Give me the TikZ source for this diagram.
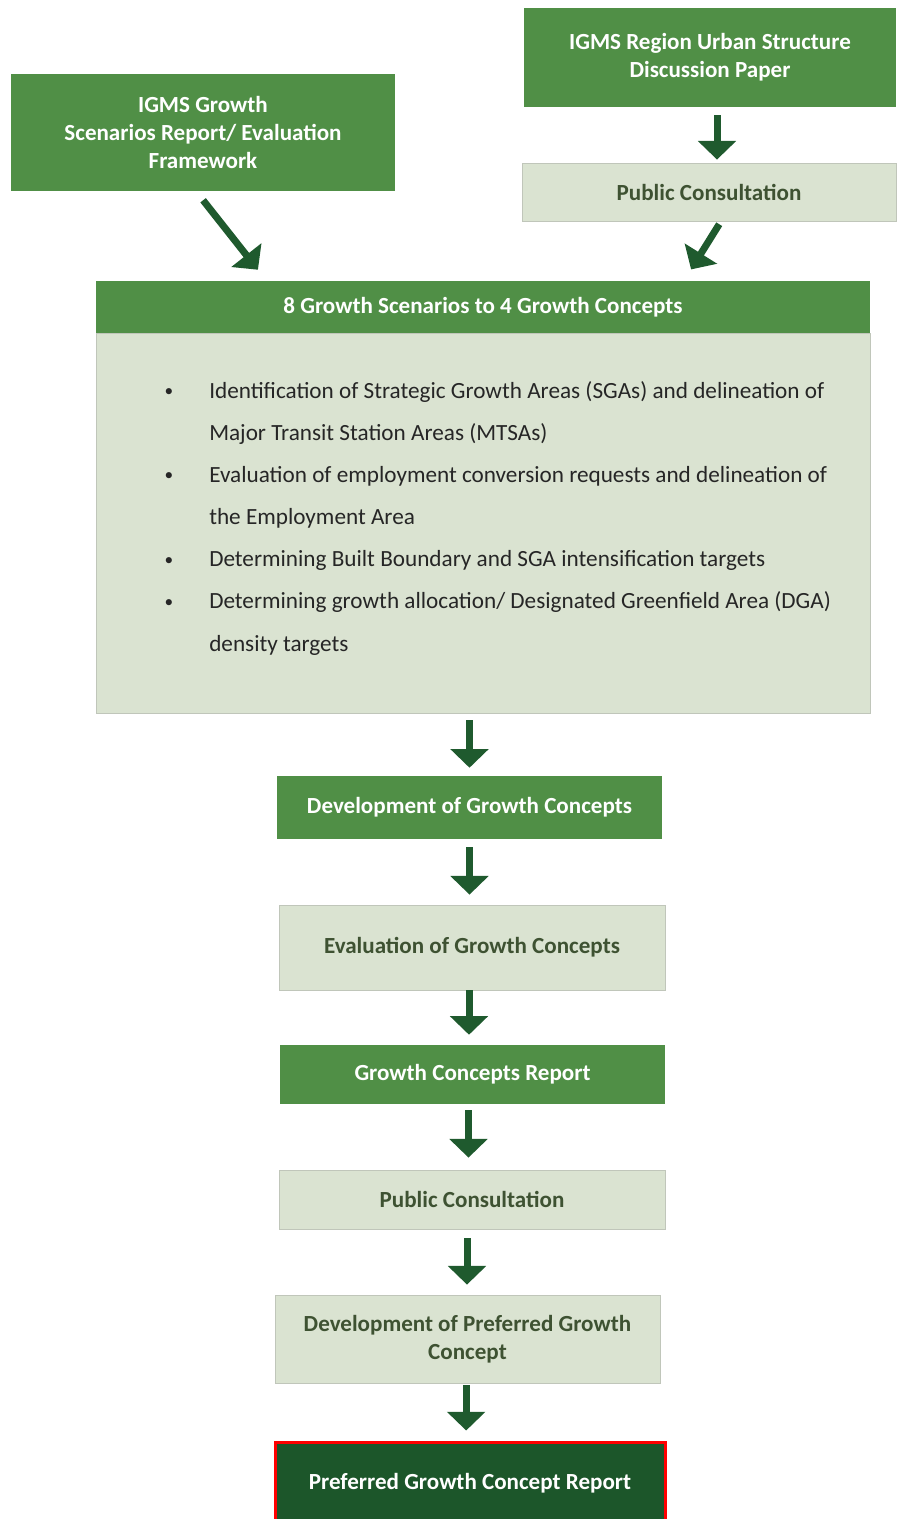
\documentclass[tikz,border=0pt]{standalone}
\usepackage{fontspec}
\setmainfont{Carlito}
\usetikzlibrary{arrows.meta}

\definecolor{boxgreen}{RGB}{80,143,70}
\definecolor{palegreen}{RGB}{218,227,209}
\definecolor{edgegrey}{RGB}{192,198,186}
\definecolor{labeldark}{RGB}{62,82,50}
\definecolor{reportgreen}{RGB}{28,86,42}
\definecolor{arrowgreen}{RGB}{31,90,46}
\newcommand{\itemdot}{\makebox[31.5pt][l]{\hspace*{-2pt}\raisebox{1.3pt}{\fontsize{13}{13}\selectfont\textbullet}}}

\begin{document}
\begin{tikzpicture}[x=0.75pt,y=-0.75pt,
  greenbox/.style={fill=boxgreen,text=white,align=center,inner sep=0pt,
    font=\bfseries\fontsize{17.3}{21}\selectfont},
  lightbox/.style={fill=palegreen,draw=edgegrey,line width=0.6pt,text=labeldark,
    align=center,inner sep=0pt,font=\bfseries\fontsize{17.3}{21}\selectfont},
  flow/.style={-{Triangle[width=28pt,length=14pt]},line width=5.25pt,draw=arrowgreen}]
  \useasboundingbox (0,0) rectangle (896,1519);
  % --- sources ---
  \node[greenbox,minimum width=288pt,minimum height=87.75pt] (growthrep) at (203,132.5)
    {IGMS Growth\\Scenarios Report/ Evaluation\\Framework};
  \node[greenbox,minimum width=279pt,minimum height=74.25pt] (urbanpaper) at (710,57.5)
    {IGMS Region Urban Structure\\Discussion Paper};
  \node[lightbox,minimum width=280.5pt,minimum height=43.5pt] (pubcon1) at (709,192)
    {Public Consultation};
  % --- scenarios to concepts ---
  \node[fill=palegreen,draw=edgegrey,line width=0.6pt,minimum width=580.5pt,minimum height=285pt,
    inner sep=0pt] (scenbody) at (483,523) {};
  \node[greenbox,minimum width=580.5pt,minimum height=39pt] (scenhead) at (483,307)
    {8 Growth Scenarios to 4 Growth Concepts};
  \node[anchor=north west,align=left,inner sep=0pt,text=black!85,
    font=\fontsize{17.4}{31.6}\selectfont] (scenitems) at (167,381)
    {\itemdot Identification of Strategic Growth Areas (SGAs) and delineation of\\
     \hspace*{31.5pt}Major Transit Station Areas (MTSAs)\\
     \itemdot Evaluation of employment conversion requests and delineation of\\
     \hspace*{31.5pt}the Employment Area\\
     \itemdot Determining Built Boundary and SGA intensification targets\\
     \itemdot Determining growth allocation/ Designated Greenfield Area (DGA)\\
     \hspace*{31.5pt}density targets};
  % --- concept steps ---
  \node[greenbox,minimum width=288.75pt,minimum height=47.25pt] (devconc) at (469.5,807.5)
    {Development of Growth Concepts};
  \node[lightbox,minimum width=289.5pt,minimum height=63.75pt] (evalconc) at (472,947.5)
    {Evaluation of Growth Concepts};
  \node[greenbox,minimum width=288.75pt,minimum height=44.25pt] (concrep) at (472.5,1074.5)
    {Growth Concepts Report};
  \node[lightbox,minimum width=289.5pt,minimum height=44.25pt] (pubcon2) at (472,1199.5)
    {Public Consultation};
  \node[lightbox,minimum width=288.75pt,minimum height=66pt] (devpref) at (467.5,1339)
    {Development of Preferred Growth\\Concept};
  \node[greenbox,fill=reportgreen,draw=red,line width=2.25pt,minimum width=292.5pt,
    minimum height=62.25pt] (prefrep) at (470,1483.5) {Preferred Growth Concept Report};
  % --- arrows ---
  \coordinate (grfoot) at ([xshift=-5.25pt]growthrep.south);
  \coordinate (grhead) at ([xshift=-162.3pt]scenhead.north);
  \coordinate (pcfoot) at ([xshift=9pt]pubcon1.south);
  \coordinate (pchead) at ([xshift=150.75pt]scenhead.north);
  \draw[flow,shorten <=8.6pt,shorten >=10.5pt] (grfoot) -- (grhead);
  \draw[flow,shorten <=2.5pt,shorten >=10pt] (pcfoot) -- (pchead);
  \draw[flow,shorten <=6pt,shorten >=2.25pt] ([xshift=5.25pt]urbanpaper.south) -- ([xshift=6pt]pubcon1.north);
  \draw[flow,shorten <=5.25pt,shorten >=6pt] (scenbody.south -| devconc.north) -- (devconc.north);
  \draw[flow,shorten <=6pt,shorten >=7.5pt] (devconc.south) -- (devconc.south |- evalconc.north);
  \draw[flow,shorten <=0pt,shorten >=7.5pt] ([xshift=-2.25pt]evalconc.south) -- ([xshift=-2.25pt]evalconc.south |- concrep.north);
  \draw[flow,shorten <=4.5pt,shorten >=9pt] ([xshift=-3pt]concrep.south) -- ([xshift=-3pt]concrep.south |- pubcon2.north);
  \draw[flow,shorten <=6.75pt,shorten >=7.5pt] ([xshift=-3.75pt]pubcon2.south) -- ([xshift=-3.75pt]pubcon2.south |- devpref.north);
  \draw[flow,shorten <=1.5pt,shorten >=7.5pt] ([xshift=-1pt]devpref.south) -- ([xshift=-1pt]devpref.south |- prefrep.north);
\end{tikzpicture}
\end{document}
